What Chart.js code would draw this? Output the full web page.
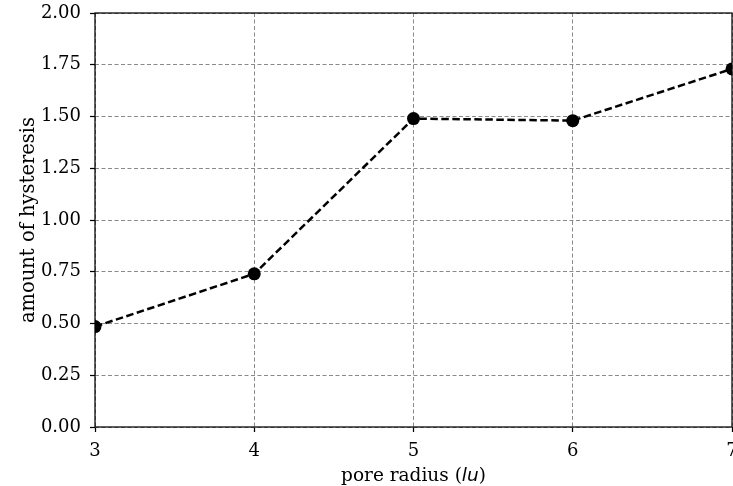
<!DOCTYPE html>
<html>
<head>
<meta charset="utf-8">
<script src="https://cdn.jsdelivr.net/npm/chart.js@4.4.1/dist/chart.umd.min.js"></script>
<style>
  html, body { margin: 0; padding: 0; background: #fff; }
  #wrap { width: 733px; height: 486px; }
</style>
</head>
<body>
<div id="wrap"><canvas id="chart"></canvas></div>
<script>
// pore radius (lu) vs amount of hysteresis
const poreRadius = [3, 4, 5, 6, 7];
const hysteresis = [0.485, 0.74, 1.49, 1.48, 1.73];
const yTicks = [0, 0.25, 0.5, 0.75, 1.0, 1.25, 1.5, 1.75, 2.0];

const serif = "'DejaVu Serif', serif";

// frame (all four spines) and the x label with italic "lu"
const framePlugin = {
    id: 'frame',
    afterDraw(chart) {
        const { ctx, chartArea: a } = chart;
        ctx.save();
        ctx.strokeStyle = '#000';
        ctx.lineWidth = 1.25;
        ctx.strokeRect(a.left, a.top, a.right - a.left, a.bottom - a.top);

        const parts = [
            { t: 'pore radius (', f: "18.5px " + serif },
            { t: 'lu', f: "italic 18.5px 'DejaVu Sans', sans-serif" },
            { t: ')', f: "18.5px " + serif }
        ];
        let total = 0;
        parts.forEach(p => { ctx.font = p.f; p.w = ctx.measureText(p.t).width; total += p.w; });
        let x = (a.left + a.right) / 2 - total / 2;
        ctx.fillStyle = '#000';
        ctx.textBaseline = 'alphabetic';
        parts.forEach(p => { ctx.font = p.f; ctx.fillText(p.t, x, 481); x += p.w; });
        ctx.restore();
    }
};

const ctx = document.getElementById('chart').getContext('2d');
new Chart(ctx, {
    type: 'line',
    data: {
        datasets: [{
            data: poreRadius.map((x, i) => ({ x: x, y: hysteresis[i] })),
            borderColor: '#000',
            backgroundColor: '#000',
            borderWidth: 2.5,
            borderDash: [7.5, 3.5],
            pointRadius: 6.5,
            pointBorderWidth: 0,
            pointBackgroundColor: '#000',
            tension: 0,
            fill: false,
            clip: 0
        }]
    },
    options: {
        responsive: true,
        maintainAspectRatio: false,
        animation: false,
        layout: { autoPadding: false, padding: { top: 13, right: 1, left: 0, bottom: 0 } },
        plugins: {
            legend: { display: false },
            tooltip: { enabled: false }
        },
        scales: {
            x: {
                type: 'linear',
                min: 3,
                max: 7,
                afterBuildTicks: s => { s.ticks = poreRadius.map(v => ({ value: v })); },
                afterFit: s => { s.height = 59; s.paddingLeft = 0; s.paddingRight = 0; },
                ticks: {
                    font: { family: serif, size: 18 },
                    color: '#000',
                    padding: 9,
                    maxRotation: 0,
                    callback: v => String(v)
                },
                grid: {
                    color: '#8a8a8a',
                    lineWidth: 1,
                    tickColor: '#000',
                    tickLength: 5,
                    tickWidth: 1.25
                },
                border: { display: false, dash: [4, 2.5] }
            },
            y: {
                min: 0,
                max: 2,
                afterBuildTicks: s => { s.ticks = yTicks.map(v => ({ value: v })); },
                afterFit: s => { s.width = 95; s.paddingTop = 0; s.paddingBottom = 0; },
                ticks: {
                    font: { family: serif, size: 18 },
                    color: '#000',
                    padding: 9,
                    callback: v => v.toFixed(2)
                },
                grid: {
                    color: '#8a8a8a',
                    lineWidth: 1,
                    tickColor: '#000',
                    tickLength: 5,
                    tickWidth: 1.25
                },
                border: { display: false, dash: [4, 2.5] },
                title: {
                    display: true,
                    text: 'amount of hysteresis',
                    font: { family: serif, size: 19.5 },
                    color: '#000',
                    padding: { top: 17, bottom: 0 }
                }
            }
        }
    },
    plugins: [framePlugin]
});
</script>
</body>
</html>
